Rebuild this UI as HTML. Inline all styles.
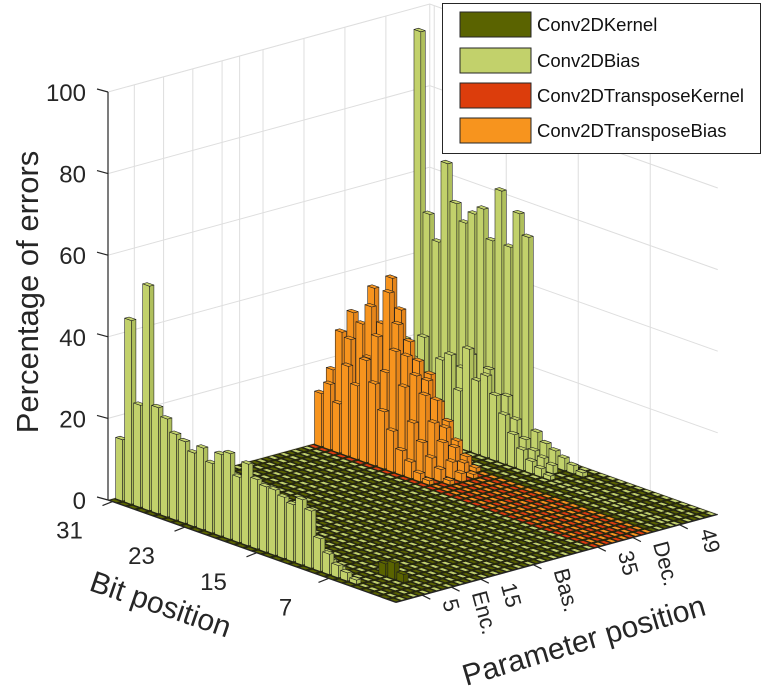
<!DOCTYPE html>
<html><head><meta charset="utf-8"><style>
html,body{margin:0;padding:0;background:#fff;}
svg{display:block;font-family:"Liberation Sans",sans-serif;}
</style></head><body>
<svg id="chart" width="764" height="687" viewBox="0 0 764 687" xmlns="http://www.w3.org/2000/svg">
<g id="grid"></g>
<polygon id="floor" fill="#2c2f00" stroke="none"/>
<g id="bars"></g>
<g id="axes"></g>
<text x="0" y="0" font-size="31" fill="#262626" text-anchor="middle" transform="translate(38,292) rotate(-90)">Percentage of errors</text>
<text x="0" y="0" font-size="30" fill="#262626" transform="translate(88,590) rotate(19)">Bit position</text>
<text x="0" y="0" font-size="30" fill="#262626" transform="translate(466,686) rotate(-16.5)">Parameter position</text>
<g>
<rect x="442.5" y="3.5" width="318" height="150" fill="#fff" stroke="#262626" stroke-width="1"/>
<g><rect x="460" y="12" width="71" height="25" fill="#5a6300" stroke="#262626"/><text x="537" y="31" font-size="18.5" fill="#111">Conv2DKernel</text></g>
<g><rect x="460" y="48" width="71" height="25" fill="#c2d16b" stroke="#262626"/><text x="537" y="67" font-size="18.5" fill="#111">Conv2DBias</text></g>
<g><rect x="460" y="83" width="71" height="25" fill="#dc3d0c" stroke="#262626"/><text x="537" y="102" font-size="18.5" fill="#111">Conv2DTransposeKernel</text></g>
<g><rect x="460" y="118" width="71" height="25" fill="#f7941e" stroke="#262626"/><text x="537" y="137" font-size="18.5" fill="#111">Conv2DTransposeBias</text></g>
</g>
</svg>
<script>
// ---- data ----
const NB = 32;            // bits 31..0 (index 0 = bit 31)
const NP = 55;            // parameters
const zTicks = [0,20,40,60,80,100];
const bitTicks = [31,23,15,7];
const paramTickPos = [5,10,15,24,35,41,49];
const paramTickLabels = ['5','Enc.','15','Bas.','35','Dec.','49'];
const paramGrid = [5,10,15,20,23,27,34,41,48];
// row type per parameter: K=Conv2DKernel, B=Conv2DBias, T=TransposeKernel, O=TransposeBias
const rowTypes = ("KBKBKBKBKBKBKBKBKBKBKBKBKBKB" + "KBKBKBTOTOTOTOTOKBKB" + "BKBKBKB").split('');
// values listed from bit 31 downward
const biasP2  = [15,45,25,55,26,24,21,20,18,20,17,20,21,16,20,17,16,16,15,14,16,14,8,5,3,2,1];
const biasP4  = [10,8,9,11,10,9,9,8,7,8,9,8,7,7,8,6,8,10,7,6,4,3,2,1];
const biasP49 = [20,22,18,24,15,20,22,14,25,18,20,16,12,8,5,3,2,1];
const biasP51 = [6,8,10,12,15,14,18,22,16,20,12,15,10,6,4,3,2];
const biasP53 = [95,51,45,65,56,52,55,57,50,63,50,59,54,7,5,4,3,2,1];
const tbiasP36 = [13,16,12,22,18,25,20,14,10,6,4,2,1];
const tbiasP38 = [18,28,27,15,24,30,22,28,20,12,8,5,3,1];
const tbiasP40 = [25,32,30,35,28,40,33,26,22,18,12,8,4,2];
const tbiasP42 = [22,28,38,30,42,35,28,24,20,16,10,6,3,1];
const tbiasP44 = [15,20,25,30,26,22,18,20,14,10,6,3,1];
const kernelP7 = [0,0,0,0,0,0,0,0,0,0,0,0,0,0,0,0,0,0,0,0,0,0,0,0,0,0,3,4,2];
const rowValues = {2:biasP2,4:biasP4,49:biasP49,51:biasP51,53:biasP53,36:tbiasP36,38:tbiasP38,40:tbiasP40,42:tbiasP42,44:tbiasP44,7:kernelP7};
const colors = {K:'#5a6300',B:'#c2d16b',T:'#dc3d0c',O:'#f7941e'};
const sideColors = {K:'#4d5500',B:'#afbf5c',T:'#c4360a',O:'#e5851a'};

// ---- projection ----
function X(u,v,z){return 108+9*u+5.85*v;}
function Y(u,v,z){return 500+3.2*u-1.6*v-4.08*z;}
function pt(u,v,z){return X(u,v,z).toFixed(2)+','+Y(u,v,z).toFixed(2);}
const NS='http://www.w3.org/2000/svg';
function mk(tag,attrs,parent){const e=document.createElementNS(NS,tag);for(const k in attrs)e.setAttribute(k,attrs[k]);parent.appendChild(e);return e;}

const grid=document.getElementById('grid');
zTicks.forEach(z=>{
  const l=mk('polyline',{points:pt(0,0,z)+' '+pt(0,NP,z)+' '+pt(NB,NP,z),fill:'none',stroke:'#dedede','stroke-width':1},grid);
  
  
});
paramGrid.forEach(p=>{
  const l=mk('line',{x1:X(0,p-0.5,0),y1:Y(0,p-0.5,0),x2:X(0,p-0.5,100),y2:Y(0,p-0.5,100),stroke:'#dedede','stroke-width':1},grid);
  
  
});
bitTicks.forEach(b=>{
  const u=31-b+0.5;
  const l=mk('line',{x1:X(u,NP,0),y1:Y(u,NP,0),x2:X(u,NP,100),y2:Y(u,NP,100),stroke:'#dedede','stroke-width':1},grid);
  
  
});
const corner=mk('line',{x1:X(0,NP,0),y1:Y(0,NP,0),x2:X(0,NP,100),y2:Y(0,NP,100),stroke:'#dedede','stroke-width':1},grid);



document.getElementById('floor').setAttribute('points',pt(0,0,0)+' '+pt(NB,0,0)+' '+pt(NB,NP,0)+' '+pt(0,NP,0));

// ---- bars ----
const bars=document.getElementById('bars');
const w0=0.12,w1=0.88;
for(let u=0;u<NB;u++){
  for(let v=NP-1;v>=0;v--){
    const p=v+1;
    const t=rowTypes[v]||'K';
    const arr=rowValues[p]||[];
    const h=arr[u]||0;
    const g=mk('g',{},bars);
    
    
    const u0=u+w0,u1=u+w1,v0=v+w0,v1=v+w1;
    const st={stroke:'#1e1e1e','stroke-width':0.55,'stroke-linejoin':'round'};
    if(h>0){
      mk('polygon',Object.assign({points:[pt(u0,v0,0),pt(u1,v0,0),pt(u1,v0,h),pt(u0,v0,h)].join(' '),fill:colors[t]},st),g);
      mk('polygon',Object.assign({points:[pt(u1,v0,0),pt(u1,v1,0),pt(u1,v1,h),pt(u1,v0,h)].join(' '),fill:sideColors[t]},st),g);
    }
    mk('polygon',Object.assign({points:[pt(u0,v0,h),pt(u1,v0,h),pt(u1,v1,h),pt(u0,v1,h)].join(' '),fill:colors[t]},st),g);
  }
}

// ---- axes ----
const axes=document.getElementById('axes');
const ax='#262626';
function line(x1,y1,x2,y2,name){const l=mk('line',{x1:x1,y1:y1,x2:x2,y2:y2,stroke:ax,'stroke-width':1.2},axes);return l;}
line(X(0,0,0),Y(0,0,0),X(0,0,100),Y(0,0,100),'z-axis-line');
line(X(0,0,0),Y(0,0,0),X(NB,0,0),Y(NB,0,0),'bit-axis-line');
line(X(NB,0,0),Y(NB,0,0),X(NB,NP,0),Y(NB,NP,0),'param-axis-line');
zTicks.forEach(z=>{
  const x=X(0,0,z),y=Y(0,0,z);
  line(x,y,x-11,y-3,'z-tick');
  const t=mk('text',{x:86,y:y+9,'font-size':24,fill:ax,'text-anchor':'end'},axes);
  
  
  t.textContent=z;
});
bitTicks.forEach(b=>{
  const u=31-b+0.5;
  const x=X(u,0,0),y=Y(u,0,0);
  line(x,y,x-10,y+4,'bit-tick');
  const t=mk('text',{x:x-43,y:y+37,'font-size':24,fill:ax,'text-anchor':'middle'},axes);
  
  
  t.textContent=b;
});
paramTickPos.forEach((p,i)=>{
  const v=p-0.5;
  const x=X(NB,v,0),y=Y(NB,v,0);
  line(x,y,x+8,y+4,'param-tick');
  const t=mk('text',{x:0,y:0,'font-size':22,fill:ax,transform:'translate('+(x+20).toFixed(1)+','+(y+6).toFixed(1)+') rotate(75)'},axes);
  
  
  t.textContent=paramTickLabels[i];
});
</script>
</body></html>
